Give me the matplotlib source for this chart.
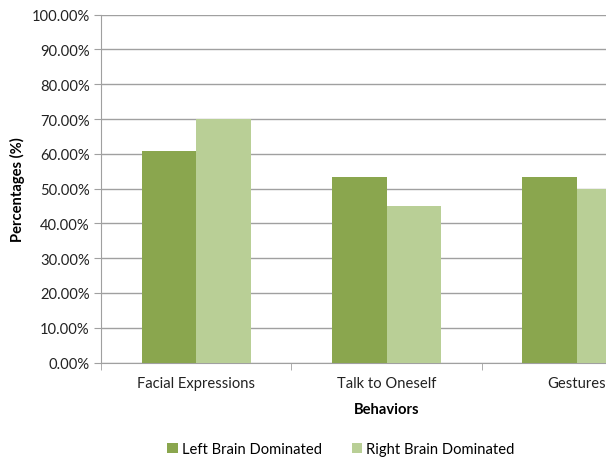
import numpy as np
import matplotlib.pyplot as plt
from matplotlib.ticker import PercentFormatter

# Data
categories = ['Facial Expressions', 'Talk to Oneself', 'Gestures']
left_brain = [60.7, 53.4, 53.4]
right_brain = [70.0, 45.0, 50.0]
series_names = ['Left Brain Dominated', 'Right Brain Dominated']
colors = ['#8AA64E', '#B9CF96']

plt.rcParams['font.family'] = ['Lato', 'DejaVu Sans']
fs = 10.6

W, H = 606, 460
fig = plt.figure(figsize=(W / 100, H / 100), dpi=100)
# plot area runs past the right edge (original was cropped)
x0, x1 = 101, 672
y_top, y_bot = 15.7, 363.5
ax = fig.add_axes([x0 / W, 1 - y_bot / H, (x1 - x0) / W, (y_bot - y_top) / H])

x = np.arange(len(categories))
bw = 0.286
ax.bar(x - bw / 2, left_brain, bw, color=colors[0], label=series_names[0], zorder=3)
ax.bar(x + bw / 2, right_brain, bw, color=colors[1], label=series_names[1], zorder=3)

ax.set_xlim(-0.5, len(categories) - 0.5)
ax.set_ylim(0, 100)
ax.set_yticks(np.arange(0, 101, 10))
ax.yaxis.set_major_formatter(PercentFormatter(decimals=2))
ax.grid(axis='y', color='#A0A0A0', linewidth=1, zorder=0)

ax.set_xticks(x)
ax.set_xticklabels(categories)
ax.set_xticks(np.arange(-0.5, len(categories)), minor=True)
ax.tick_params(axis='x', which='major', length=0, pad=10, labelsize=fs, labelcolor='#222222')
ax.tick_params(axis='x', which='minor', length=5, color='#A0A0A0', direction='out')
ax.tick_params(axis='y', length=5, color='#A0A0A0', labelsize=fs, labelcolor='#222222', pad=3)

for s in ['top', 'right']:
    ax.spines[s].set_visible(False)
for s in ['left', 'bottom']:
    ax.spines[s].set_color('#A0A0A0')

ax.set_ylabel('Percentages (%)', fontsize=fs, fontweight='bold', labelpad=5)
ax.set_xlabel('Behaviors', fontsize=fs, fontweight='bold', labelpad=8)

fig.legend(loc='center', bbox_to_anchor=(341 / W, 1 - 450 / H), ncol=2, frameon=False,
           fontsize=fs, handlelength=0.7, handleheight=0.7, handletextpad=0.3, columnspacing=2.0)

fig.savefig('out.png', dpi=100)
